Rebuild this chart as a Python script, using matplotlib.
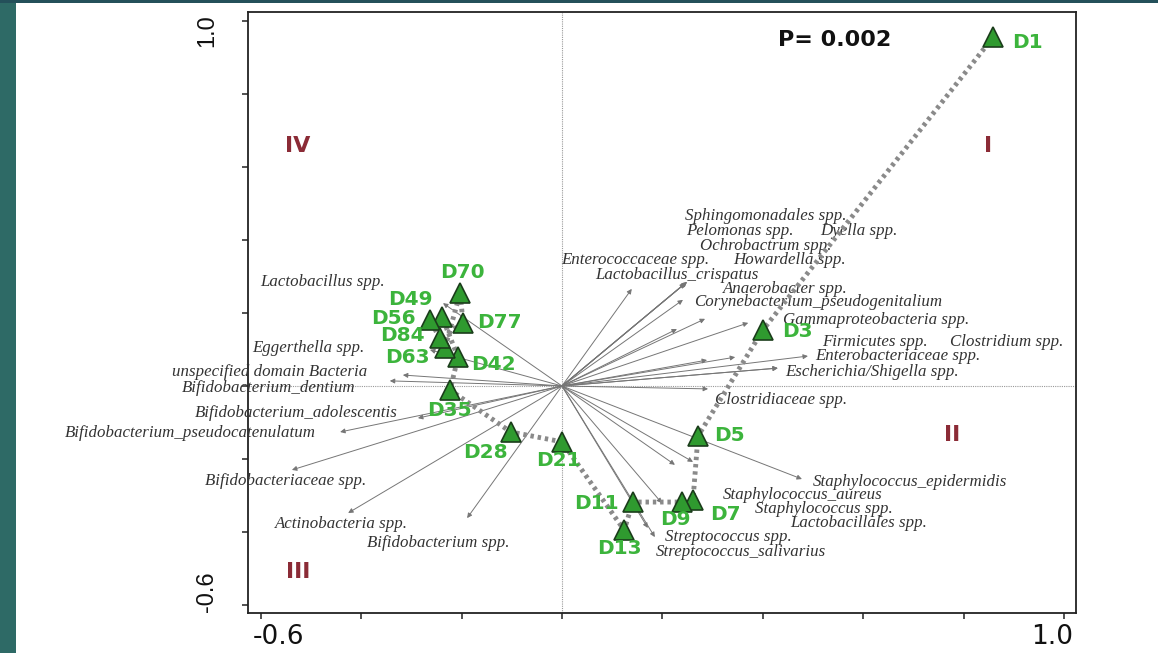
import matplotlib
matplotlib.use("Agg")
import matplotlib.pyplot as plt
from matplotlib.patches import Rectangle

# ---------------- data ----------------
sites = ["D1", "D3", "D5", "D7", "D9", "D11", "D13", "D21", "D28", "D35",
         "D42", "D49", "D56", "D63", "D70", "D77", "D84"]
site_x = [0.859, 0.400, 0.271, 0.261, 0.239, 0.141, 0.124, 0.000, -0.102, -0.223,
          -0.207, -0.239, -0.263, -0.233, -0.203, -0.197, -0.243]
site_y = [0.956, 0.153, -0.137, -0.312, -0.318, -0.318, -0.395, -0.153, -0.126, -0.011,
          0.079, 0.189, 0.181, 0.104, 0.255, 0.173, 0.131]
site_label_x = [0.896, 0.438, 0.303, 0.295, 0.195, 0.024, 0.070, -0.052, -0.197, -0.269,
                -0.181, -0.347, -0.380, -0.353, -0.243, -0.169, -0.363]
site_label_y = [0.940, 0.148, -0.137, -0.353, -0.366, -0.321, -0.444, -0.205, -0.181, -0.066,
                0.060, 0.238, 0.186, 0.079, 0.310, 0.173, 0.137]

species = ["Sphingomonadales spp.", "Pelomonas spp.", "Dyella spp.", "Ochrobactrum spp.",
           "Enterococcaceae spp.", "Howardella spp.", "Lactobacillus_crispatus",
           "Anaerobacter spp.", "Corynebacterium_pseudogenitalium",
           "Gammaproteobacteria spp.", "Firmicutes spp.", "Clostridium spp.",
           "Enterobacteriaceae spp.", "Escherichia/Shigella spp.", "Clostridiaceae spp.",
           "Staphylococcus_epidermidis", "Staphylococcus_aureus", "Staphylococcus spp.",
           "Lactobacillales spp.", "Streptococcus spp.", "Streptococcus_salivarius",
           "Lactobacillus spp.", "Eggerthella spp.", "unspecified domain Bacteria",
           "Bifidobacterium_dentium", "Bifidobacterium_adolescentis",
           "Bifidobacterium_pseudocatenulatum", "Bifidobacteriaceae spp.",
           "Actinobacteria spp.", "Bifidobacterium spp."]
species_x = [0.249, 0.247, 0.245, 0.289, 0.139, 0.229, 0.249,
             0.241, 0.285, 0.371, 0.345, 0.430, 0.490, 0.430, 0.291,
             0.478, 0.261, 0.225, 0.199, 0.185, 0.171,
             -0.237, -0.263, -0.317, -0.343, -0.287, -0.442, -0.538, -0.426, -0.189]
species_y = [0.285, 0.283, 0.281, 0.071, 0.266, 0.156, 0.285,
             0.236, 0.184, 0.173, 0.079, 0.049, 0.082, 0.049, -0.008,
             -0.255, -0.208, -0.216, -0.321, -0.414, -0.389,
             0.227, 0.099, 0.030, 0.014, -0.088, -0.126, -0.230, -0.348, -0.362]
species_label_x = [0.245, 0.247, 0.514, 0.275, -0.002, 0.341, 0.066,
                   0.321, 0.263, 0.440, 0.518, 0.773, 0.504, 0.444, 0.305,
                   0.500, 0.321, 0.384, 0.454, 0.205, 0.187,
                   -0.602, -0.618, -0.777, -0.757, -0.731, -0.990, -0.711, -0.572, -0.388]
species_label_y = [0.466, 0.424, 0.424, 0.384, 0.345, 0.345, 0.304,
                   0.266, 0.230, 0.181, 0.121, 0.121, 0.082, 0.038, -0.038,
                   -0.264, -0.298, -0.336, -0.376, -0.415, -0.456,
                   0.285, 0.104, 0.039, -0.006, -0.074, -0.129, -0.260, -0.378, -0.430]

quadrants = ["I", "II", "III", "IV"]
quad_x = [0.849, 0.777, -0.526, -0.526]
quad_y = [0.658, -0.134, -0.510, 0.658]

p_text = "P= 0.002"

# ---------------- figure ----------------
fig = plt.figure(figsize=(11.58, 6.53), dpi=100)
fig.patch.set_facecolor("white")
# slide background strips
fig.patches.append(Rectangle((0, 0), 16 / 1158, 1, transform=fig.transFigure,
                             facecolor="#2e6a66", edgecolor="none", zorder=0))
fig.patches.append(Rectangle((0, 1 - 3 / 653), 1, 3 / 653, transform=fig.transFigure,
                             facecolor="#24505a", edgecolor="none", zorder=0))

ax = fig.add_axes([248 / 1158, 1 - 613 / 653, (1076 - 248) / 1158, (613 - 12) / 653])
ax.set_xlim(-0.6255, 1.024)
ax.set_ylim(-0.622, 1.0247)

for s in ax.spines.values():
    s.set_linewidth(1.3)
    s.set_color("#222222")

ax.set_xticks([-0.6, -0.4, -0.2, 0.0, 0.2, 0.4, 0.6, 0.8, 1.0])
ax.set_yticks([-0.6, -0.4, -0.2, 0.0, 0.2, 0.4, 0.6, 0.8, 1.0])
ax.set_xticklabels([])
ax.set_yticklabels([])
ax.tick_params(direction="out", length=4, width=1.1, colors="#222222")

xfont = dict(family="DejaVu Sans", fontsize=19, color="#111111")
yfont = dict(family="Liberation Sans", fontsize=17, color="#111111")
ax.text(-0.564, -0.688, "-0.6", ha="center", va="center", clip_on=False, **xfont)
ax.text(0.976, -0.688, "1.0", ha="center", va="center", clip_on=False, **xfont)
ax.text(-0.707, 0.973, "1.0", ha="center", va="center", rotation=90, clip_on=False, **yfont)
ax.text(-0.707, -0.564, "-0.6", ha="center", va="center", rotation=90, clip_on=False, **yfont)

# origin lines
ax.axhline(0, color="#999999", lw=0.8, ls=(0, (1, 1)), zorder=1)
ax.axvline(0, color="#999999", lw=0.8, ls=(0, (1, 1)), zorder=1)

# species arrows
for sx, sy in zip(species_x, species_y):
    ax.annotate("", xy=(sx, sy), xytext=(0, 0),
                arrowprops=dict(arrowstyle="-|>", color="#767676", lw=0.7,
                                mutation_scale=7, shrinkA=0, shrinkB=0),
                zorder=2)
for name, lx, ly in zip(species, species_label_x, species_label_y):
    ax.text(lx, ly, name, ha="left", va="center", fontsize=12.2,
            family="Liberation Serif", style="italic", color="#333333",
            clip_on=False, zorder=3)

# trajectory
ax.plot(site_x, site_y, color="#8a8a8a", lw=3.5, ls=(0, (0.7, 0.8)),
        solid_capstyle="butt", zorder=4)
ax.plot(site_x, site_y, ls="none", marker="^", markersize=15,
        markerfacecolor="#2f9a2f", markeredgecolor="#1b3d1b", markeredgewidth=1.2,
        zorder=5)
for name, lx, ly in zip(sites, site_label_x, site_label_y):
    ax.text(lx, ly, name, ha="left", va="center", fontsize=14.5,
            family="DejaVu Sans", weight="bold", color="#3cb43c", zorder=6)

for q, qx, qy in zip(quadrants, quad_x, quad_y):
    ax.text(qx, qy, q, ha="center", va="center", fontsize=16,
            family="DejaVu Sans", weight="bold", color="#8b2b36")

ax.text(0.430, 0.948, p_text, ha="left", va="center", fontsize=16,
        family="DejaVu Sans", weight="bold", color="#111111")

fig.savefig("out.png", dpi=100, facecolor="white")
